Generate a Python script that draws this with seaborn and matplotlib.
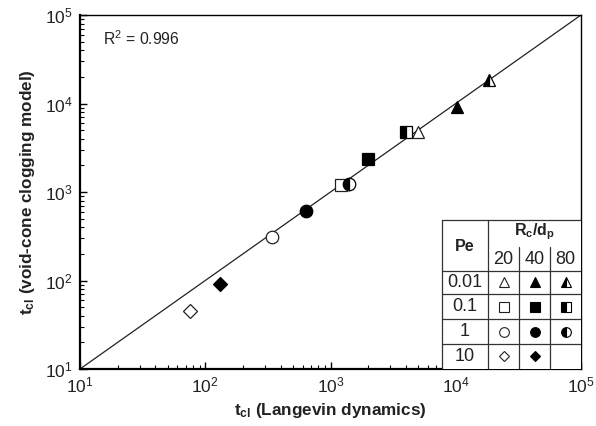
import matplotlib
matplotlib.use("Agg")
import matplotlib.pyplot as plt
import seaborn as sns
import pandas as pd
import numpy as np
from matplotlib.ticker import LogLocator, NullFormatter

# ---- data ----
pe_labels = ["0.01", "0.1", "1", "10"]
rc_labels = ["20", "40", "80"]

# Rc/dp = 20 (open markers), rows ordered by Pe
rc20_lang = [5024, 1206, 343, 75.5]
rc20_model = [4750, 1200, 308, 45.6]
# Rc/dp = 40 (filled markers)
rc40_lang = [10180, 2004, 634, 131]
rc40_model = [9200, 2360, 615, 90.6]
# Rc/dp = 80 (half-filled markers), no Pe = 10 point
rc80_lang = [18440, 4008, 1406]
rc80_model = [18440, 4727, 1222]

line_x = [10, 1e5]
line_y = [10, 1e5]

markers = ["^", "s", "o", "D"]
msizes = [9, 8, 9, 7]
r2_text = "R$^2$ = 0.996"

# ---- style ----
sns.set_theme(style="ticks")
plt.rcParams["font.family"] = ["Liberation Sans", "DejaVu Sans"]
plt.rcParams["mathtext.fontset"] = "custom"
plt.rcParams["mathtext.rm"] = "Liberation Sans"
plt.rcParams["mathtext.it"] = "Liberation Sans:italic"
plt.rcParams["mathtext.bf"] = "Liberation Sans:bold"

fig = plt.figure(figsize=(5.96, 4.26), dpi=100)
ax = fig.add_axes([80/596, 1-369/426, 501/596, 354/426])

sns.lineplot(x=line_x, y=line_y, ax=ax, color="#222222", lw=0.9)

ec = "#222222"
for i in range(4):
    ax.plot(rc20_lang[i], rc20_model[i], marker=markers[i], ms=msizes[i],
            mfc="white", mec=ec, mew=0.9, ls="none", zorder=3)
    ax.plot(rc40_lang[i], rc40_model[i], marker=markers[i], ms=msizes[i],
            mfc="black", mec="black", mew=0.9, ls="none", zorder=3)
for i in range(3):
    ax.plot(rc80_lang[i], rc80_model[i], marker=markers[i], ms=msizes[i],
            mfc="black", mfcalt="white", fillstyle="left", mec="black",
            mew=0.9, ls="none", zorder=3)

ax.set_xscale("log")
ax.set_yscale("log")
ax.set_xlim(10, 1e5)
ax.set_ylim(10, 1e5)

for a in (ax.xaxis, ax.yaxis):
    a.set_major_locator(LogLocator(base=10, numticks=10))
    a.set_minor_locator(LogLocator(base=10, subs=np.arange(2, 10), numticks=10))
    a.set_minor_formatter(NullFormatter())
ax.tick_params(which="major", direction="in", length=5, width=1, labelsize=12.5,
               top=False, right=False, pad=5, color="black", labelcolor="#222222")
ax.tick_params(which="minor", direction="in", length=3, width=0.8,
               top=False, right=False, color="black")
for side in ["left", "bottom"]:
    ax.spines[side].set_linewidth(1.6)
for side in ["top", "right"]:
    ax.spines[side].set_linewidth(1.0)
for s in ax.spines.values():
    s.set_color("black")

ax.set_xlabel(r"t$_{\mathbf{cl}}$ (Langevin dynamics)", fontsize=12.3,
              fontweight="bold", labelpad=4, color="#222222")
ax.set_ylabel(r"t$_{\mathbf{cl}}$ (void-cone clogging model)", fontsize=12.3,
              fontweight="bold", labelpad=6, color="#222222")

ax.text((103-80)/501, (369-39)/354, r2_text, transform=ax.transAxes,
        fontsize=11.3, va="center", ha="left", color="#222222")

# ---- embedded legend table ----
def fx(px):
    return (px - 80) / 501
def fy(py):
    return (369 - py) / 354

T = ax.transAxes
lc = "#333333"
lw = 0.9
x0, xpe, x20, x40, x80, x1 = 442.3, 487.7, 519.3, 550.3, 581, 581
ytop, yhead, ysub = 220, 270.7, 247
row_lines = [294, 319.3, 344]
ax.add_patch(plt.Rectangle((fx(x0), 0), fx(x1) - fx(x0), fy(ytop), transform=T,
                           facecolor="white", edgecolor="none", zorder=4))
ax.plot([fx(x0), fx(x1)], [fy(ytop)] * 2, transform=T, color=lc, lw=lw, zorder=5)
ax.plot([fx(x0)] * 2, [fy(ytop), 0], transform=T, color=lc, lw=lw, zorder=5)
ax.plot([fx(xpe)] * 2, [fy(ytop), 0], transform=T, color=lc, lw=lw, zorder=5)
for xv in (x20, x40):
    ax.plot([fx(xv)] * 2, [fy(ysub), 0], transform=T, color=lc, lw=lw, zorder=5)
for yv in [yhead] + row_lines:
    ax.plot([fx(x0), fx(x1)], [fy(yv)] * 2, transform=T, color=lc, lw=lw, zorder=5)

tc = "#222222"
ax.text(fx((x0 + xpe) / 2), fy(247), "Pe", transform=T, ha="center", va="center",
        fontsize=11.5, fontweight="bold", zorder=6, color=tc)
ax.text(fx((xpe + x1) / 2), fy(232), r"R$_{\mathbf{c}}$/d$_{\mathbf{p}}$",
        transform=T, ha="center", va="center", fontsize=11.5, fontweight="bold",
        zorder=6, color=tc)
col_cent = [(xpe + x20) / 2, (x20 + x40) / 2, (x40 + x1) / 2]
for j, lab in enumerate(rc_labels):
    ax.text(fx(col_cent[j]), fy(260), lab, transform=T, ha="center", va="center",
            fontsize=13, zorder=6, color=tc)
row_cent = [282.3, 306.7, 331.7, 356.2]
tmsizes = [6.5, 6.5, 7, 5.5]
for i, lab in enumerate(pe_labels):
    ax.text(fx((x0 + xpe) / 2), fy(row_cent[i]), lab, transform=T, ha="center",
            va="center", fontsize=13, zorder=6, color=tc)
    ax.plot(fx(col_cent[0]), fy(row_cent[i]), marker=markers[i], ms=tmsizes[i],
            mfc="white", mec=ec, mew=0.8, ls="none", transform=T, zorder=6)
    ax.plot(fx(col_cent[1]), fy(row_cent[i]), marker=markers[i], ms=tmsizes[i],
            mfc="black", mec="black", mew=0.8, ls="none", transform=T, zorder=6)
    if i < 3:
        ax.plot(fx(col_cent[2]), fy(row_cent[i]), marker=markers[i], ms=tmsizes[i],
                mfc="black", mfcalt="white", fillstyle="left", mec="black",
                mew=0.8, ls="none", transform=T, zorder=6)

fig.savefig("out.png", dpi=100)
